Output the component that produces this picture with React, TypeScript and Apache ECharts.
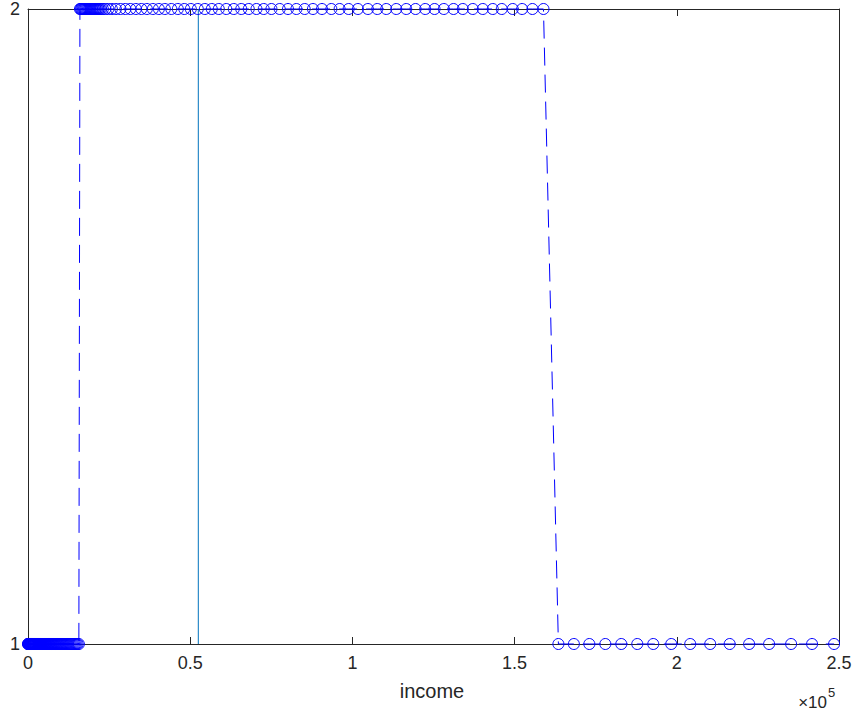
import React, { useEffect, useRef } from "react";
import * as echarts from "echarts";

// income values (x) of each marker, in order along the dashed line
const lowIncomeX = [
  0, 60, 120, 190, 250, 320, 390, 460, 530, 600, 680, 750, 830, 910, 990, 1070, 1150,
  1240, 1320, 1410, 1500, 1590, 1680, 1780, 1870, 1970, 2070, 2170, 2270, 2380, 2480,
  2590, 2700, 2810, 2930, 3040, 3160, 3280, 3400, 3530, 3650, 3780, 3910, 4040, 4180,
  4320, 4460, 4600, 4750, 4900, 5050, 5210, 5370, 5530, 5690, 5860, 6030, 6210, 6390,
  6570, 6760, 6950, 7140, 7340, 7540, 7750, 7960, 8170, 8390, 8620, 8850, 9080, 9320,
  9560, 9810, 10060, 10320, 10580, 10850, 11130, 11410, 11700, 11990, 12290, 12600,
  12910, 13230, 13560, 13890, 14230, 14580, 14940, 15300, 15680,
];
const midIncomeX = [
  16010, 16250, 16480, 16720, 16960, 17200, 17450, 17700, 17950, 18210, 18470, 18740,
  19010, 19290, 19570, 19860, 20160, 20460, 20770, 21090, 21420, 21760, 22110, 22480,
  23090, 23860, 24790, 25860, 27100, 28480, 30020, 31560,
  33250, 34950, 36640, 38490, 40340, 42180, 44180, 46190, 48190, 50190, 52340, 54500,
  56650, 58810, 61120, 63430, 65740, 68050, 70420, 72660, 75040, 77590, 80150, 82730,
  85290, 87840, 90620, 93510, 96060, 98840, 101700, 104780, 107670, 110440, 113520,
  116600, 119470, 122450, 125320, 128180, 131170, 134030, 137110, 140190, 143270,
  146040, 149420, 152320, 155500, 158900,
];
const highIncomeX = [
  163500, 168270, 173040, 177970, 182890, 187820, 192750, 198290, 204140, 210300,
  216300, 222300, 228460, 235240, 241700, 248480,
];
const lowValue = 1;
const midValue = 2;
const highValue = 1;

const markerIncome = 52500;
const yRange = [1, 2];

const xTicks = [0, 50000, 100000, 150000, 200000, 250000];
const xTickLabels = ["0", "0.5", "1", "1.5", "2", "2.5"];
const yTicks = [1, 2];

const FONT = "Liberation Sans, Arial, Helvetica, sans-serif";
const AX = "#262626";

export default function App() {
  const ref = useRef<HTMLDivElement>(null);
  useEffect(() => {
    if (!ref.current) return;
    const chart = echarts.init(ref.current, null, { renderer: "svg" });
    const data: number[][] = [
      ...lowIncomeX.map((x) => [x, lowValue]),
      ...midIncomeX.map((x) => [x, midValue]),
      ...highIncomeX.map((x) => [x, highValue]),
    ];
    const xBase = {
      type: "value" as const,
      min: xTicks[0],
      max: xTicks[xTicks.length - 1],
      interval: xTicks[1] - xTicks[0],
      splitLine: { show: false },
      axisLine: { show: true, onZero: false, lineStyle: { color: AX, width: 1 } },
      axisTick: { show: true, inside: true, length: 7, lineStyle: { color: AX } },
    };
    const yBase = {
      type: "value" as const,
      min: yTicks[0],
      max: yTicks[yTicks.length - 1],
      interval: 1,
      splitLine: { show: false },
      axisLine: { show: true, onZero: false, lineStyle: { color: AX, width: 1 } },
      axisTick: { show: true, inside: true, length: 7, lineStyle: { color: AX } },
    };
    chart.setOption({
      animation: false,
      grid: { left: 28, right: 17, top: 7, bottom: 69, containLabel: false },
      xAxis: [
        {
          ...xBase,
          position: "bottom",
          axisLabel: {
            show: true,
            margin: 10,
            color: AX,
            fontSize: 18,
            fontFamily: FONT,
            formatter: (v: number) => {
              const i = xTicks.indexOf(v);
              return i >= 0 ? xTickLabels[i] : "";
            },
          },
        },
        { ...xBase, position: "top", axisLabel: { show: false } },
      ],
      yAxis: [
        {
          ...yBase,
          position: "left",
          axisLabel: { show: true, margin: 8, color: AX, fontSize: 18, fontFamily: FONT },
        },
        { ...yBase, position: "right", axisLabel: { show: false } },
      ],
      series: [
        {
          type: "line",
          xAxisIndex: 0,
          yAxisIndex: 0,
          data: [
            [markerIncome, yRange[0]],
            [markerIncome, yRange[1]],
          ],
          symbol: "none",
          lineStyle: { color: "#0072BD", width: 1 },
          silent: true,
          z: 1,
        },
        {
          type: "line",
          xAxisIndex: 0,
          yAxisIndex: 0,
          data,
          symbol: "circle",
          symbolSize: 11,
          showAllSymbol: true,
          clip: false,
          itemStyle: { color: "rgba(0,0,0,0)", borderColor: "#0000FF", borderWidth: 1 },
          lineStyle: { color: "#0000FF", width: 1, type: [18, 9] },
          z: 2,
        },
      ],
      graphic: [
        {
          type: "text",
          x: 432,
          y: 691,
          style: {
            text: "income",
            fontSize: 20,
            fontFamily: FONT,
            fill: AX,
            align: "center",
            verticalAlign: "middle",
          },
        },
        {
          type: "text",
          x: 827,
          y: 702,
          style: {
            text: "×10",
            fontSize: 17,
            fontFamily: FONT,
            fill: AX,
            align: "right",
            verticalAlign: "middle",
          },
        },
        {
          type: "text",
          x: 828,
          y: 692,
          style: {
            text: "5",
            fontSize: 13,
            fontFamily: FONT,
            fill: AX,
            align: "left",
            verticalAlign: "middle",
          },
        },
      ],
    });
    return () => chart.dispose();
  }, []);
  return (
    <div
      ref={ref}
      style={{ position: "fixed", left: 0, top: 0, width: 856, height: 713, background: "#fff" }}
    />
  );
}
